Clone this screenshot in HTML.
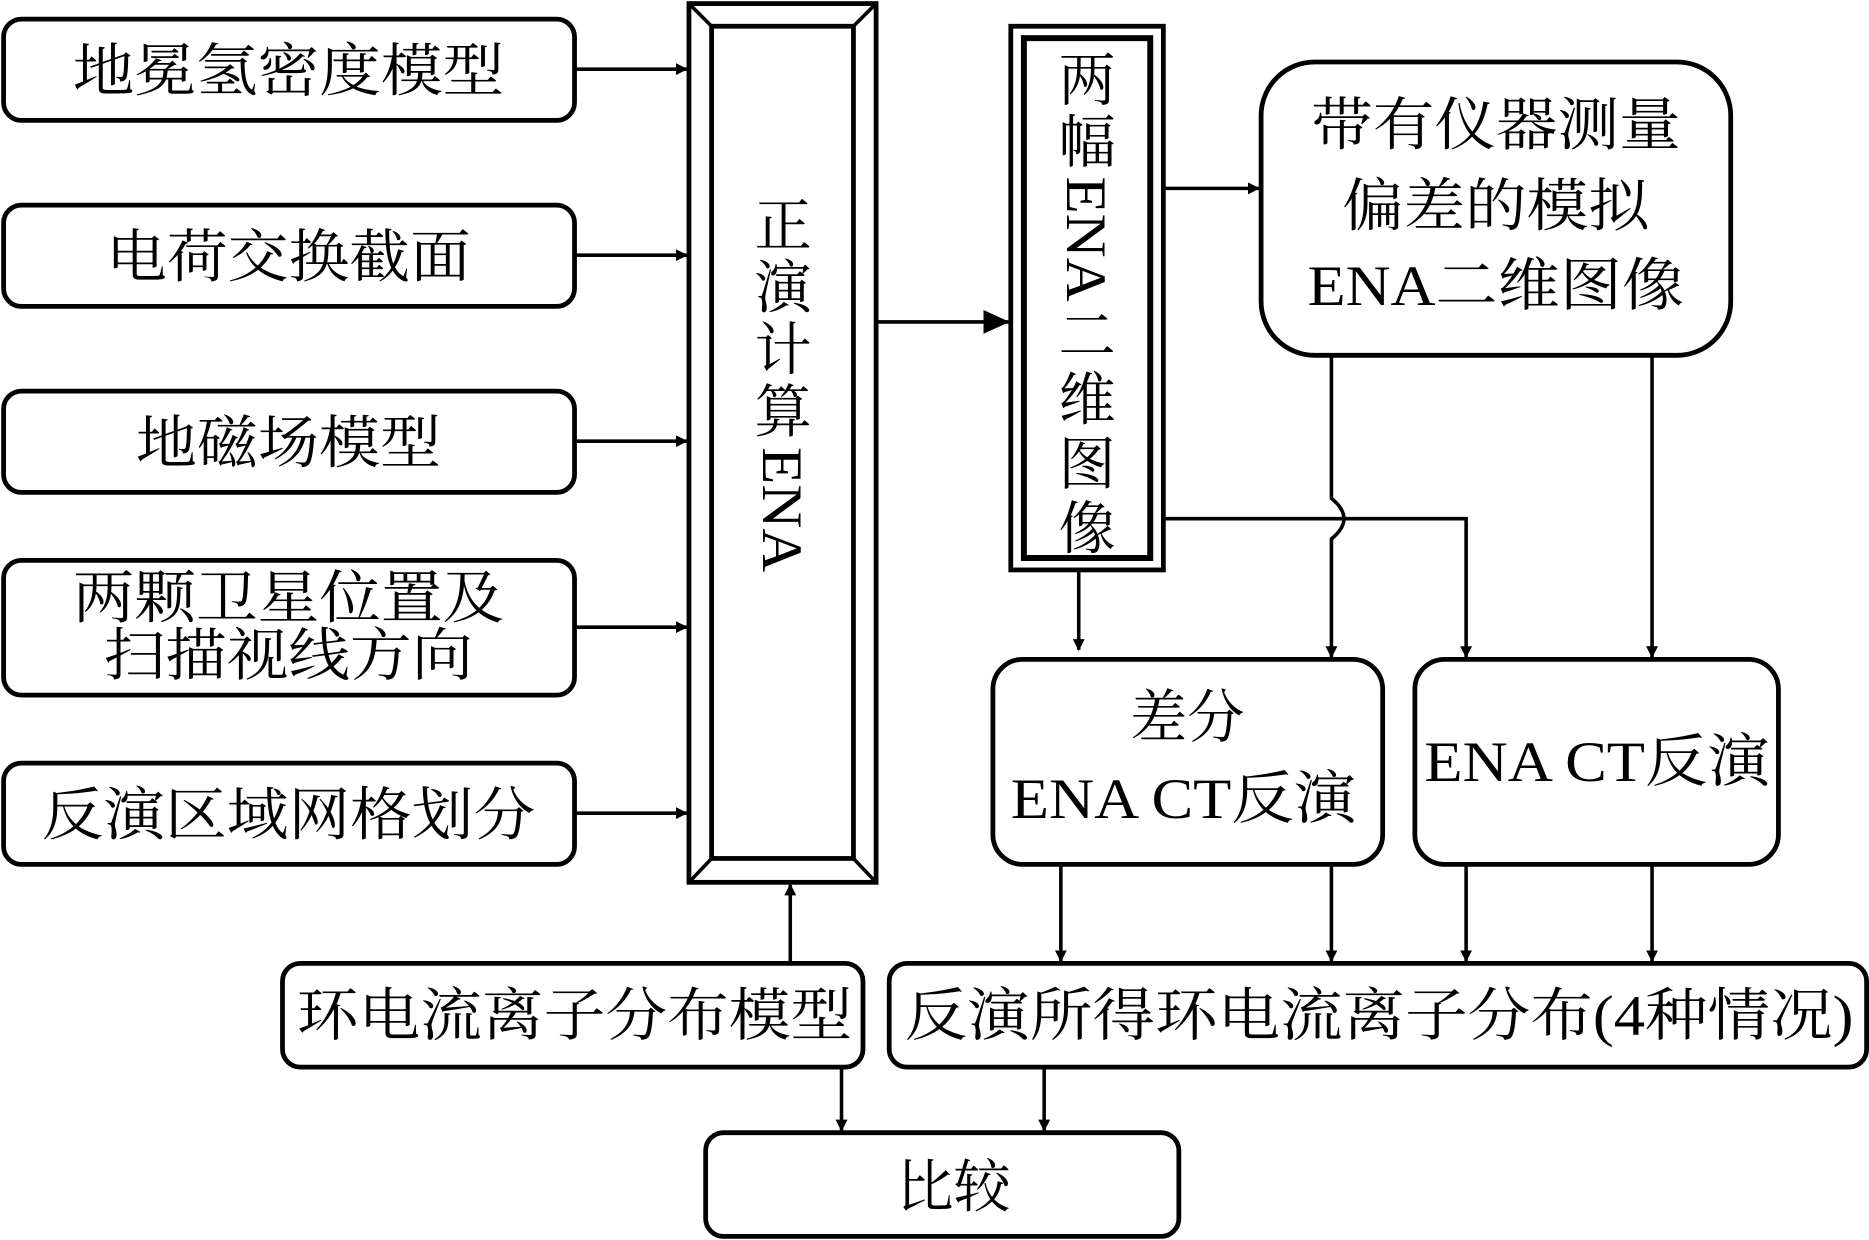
<!DOCTYPE html>
<html><head><meta charset="utf-8"><style>
html,body{margin:0;padding:0;background:#fff;}
svg{display:block;}
text{font-family:"Liberation Serif","Noto Serif CJK SC",serif;fill:#000;}
</style></head><body>
<svg width="1869" height="1240" viewBox="0 0 1568 1040" preserveAspectRatio="none" xmlns="http://www.w3.org/2000/svg">
<defs>
<marker id="a" markerWidth="10" markerHeight="10" refX="9" refY="5" orient="auto" markerUnits="userSpaceOnUse"><path d="M0,0 L10,5 L0,10 z" fill="#000"/></marker>
<marker id="b" markerWidth="22" markerHeight="20" refX="21" refY="10" orient="auto" markerUnits="userSpaceOnUse"><path d="M0,0 L22,10 L0,20 z" fill="#000"/></marker>
</defs>
<g fill="none" stroke="#000" stroke-width="4">
<rect x="3" y="16" width="479" height="85" rx="15"/>
<rect x="3" y="172" width="479" height="85" rx="15"/>
<rect x="3" y="328" width="479" height="85" rx="15"/>
<rect x="3" y="470" width="479" height="113" rx="15"/>
<rect x="3" y="640" width="479" height="85" rx="15"/>
<rect x="578" y="3" width="157" height="737"/>
<rect x="597" y="22" width="119" height="698"/>
<path d="M578,3 L597,22 M735,3 L716,22 M578,740 L597,720 M735,740 L716,720" stroke-width="3"/>
<rect x="848" y="22" width="128" height="456"/>
<rect x="859" y="32" width="106" height="436" stroke-width="5"/>
<rect x="1058" y="52" width="394" height="246" rx="45"/>
<rect x="833" y="553" width="327" height="172" rx="25"/>
<rect x="1187" y="553" width="305" height="172" rx="25"/>
<rect x="746" y="808" width="820" height="87" rx="15"/>
<rect x="237" y="808" width="487" height="87" rx="15"/>
<rect x="592" y="950" width="397" height="87" rx="15"/>
</g>
<g fill="none" stroke="#000" stroke-width="3">
<path d="M482,58 H576" marker-end="url(#a)"/>
<path d="M482,214 H576" marker-end="url(#a)"/>
<path d="M482,370 H576" marker-end="url(#a)"/>
<path d="M482,526 H576" marker-end="url(#a)"/>
<path d="M482,682 H576" marker-end="url(#a)"/>
<path d="M735,270 H846" marker-end="url(#b)"/>
<path d="M976,158 H1056" marker-end="url(#a)"/>
<path d="M1117,298 V418 Q1138,435 1117,452 V551" marker-end="url(#a)"/>
<path d="M1386,298 V551" marker-end="url(#a)"/>
<path d="M976,435 H1230 V551" marker-end="url(#a)"/>
<path d="M905,478 V545" marker-end="url(#a)"/>
<path d="M890,725 V806" marker-end="url(#a)"/>
<path d="M1117,725 V806" marker-end="url(#a)"/>
<path d="M1230,725 V806" marker-end="url(#a)"/>
<path d="M1386,725 V806" marker-end="url(#a)"/>
<path d="M663,808 V742" marker-end="url(#a)"/>
<path d="M706,895 V948" marker-end="url(#a)"/>
<path d="M876,895 V948" marker-end="url(#a)"/>
</g>
<g font-size="48" text-anchor="middle">
<text x="242" y="76" textLength="362" lengthAdjust="spacingAndGlyphs">地冕氢密度模型</text>
<text x="242" y="232" textLength="306" lengthAdjust="spacingAndGlyphs">电荷交换截面</text>
<text x="242" y="388" textLength="256" lengthAdjust="spacingAndGlyphs">地磁场模型</text>
<text x="242" y="518" textLength="362" lengthAdjust="spacingAndGlyphs">两颗卫星位置及</text>
<text x="242" y="566" textLength="310" lengthAdjust="spacingAndGlyphs">扫描视线方向</text>
<text x="242" y="700" textLength="414" lengthAdjust="spacingAndGlyphs">反演区域网格划分</text>
<text x="1255" y="121" textLength="310" lengthAdjust="spacingAndGlyphs">带有仪器测量</text>
<text x="1255" y="189" textLength="258" lengthAdjust="spacingAndGlyphs">偏差的模拟</text>
<text x="1255" y="256" textLength="316" lengthAdjust="spacingAndGlyphs">ENA二维图像</text>
<text x="996" y="618">差分</text>
<text x="993" y="686" textLength="290" lengthAdjust="spacingAndGlyphs">ENA CT反演</text>
<text x="1340" y="655" textLength="290" lengthAdjust="spacingAndGlyphs">ENA CT反演</text>
<text x="1157" y="868" textLength="796" lengthAdjust="spacingAndGlyphs">反演所得环电流离子分布(4种情况)</text>
<text x="482" y="868" textLength="466" lengthAdjust="spacingAndGlyphs">环电流离子分布模型</text>
<text x="800" y="1012">比较</text>
<text x="657" y="206">正</text>
<text x="657" y="258">演</text>
<text x="657" y="310">计</text>
<text x="657" y="362">算</text>
<text transform="translate(640,375) rotate(90)" text-anchor="start" textLength="105" lengthAdjust="spacingAndGlyphs">ENA</text>
<text x="912" y="84">两</text>
<text x="912" y="136">幅</text>
<text transform="translate(895,148) rotate(90)" text-anchor="start" textLength="105" lengthAdjust="spacingAndGlyphs">ENA</text>
<text x="912" y="298">二</text>
<text x="912" y="352">维</text>
<text x="912" y="406">图</text>
<text x="912" y="460">像</text>
</g>
</svg>
</body></html>
